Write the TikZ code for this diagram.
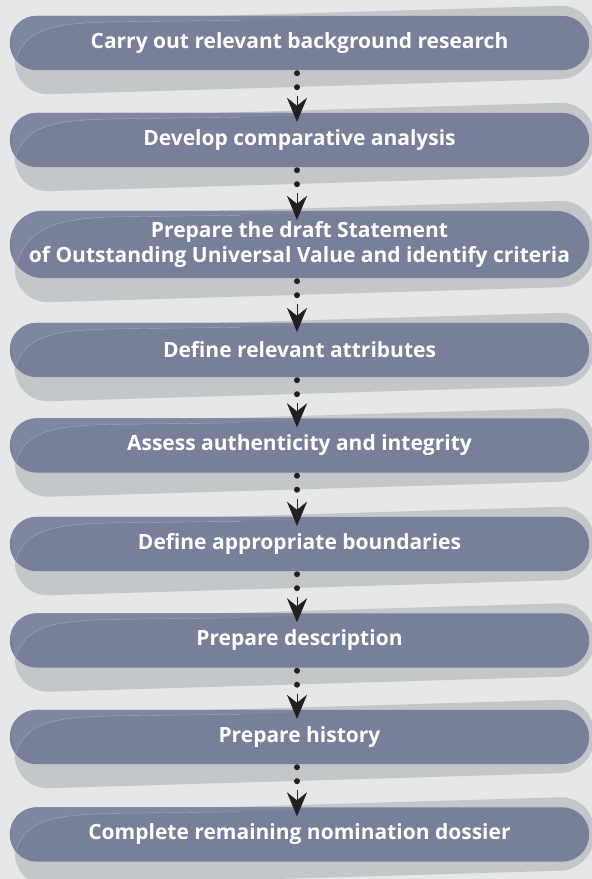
\documentclass[tikz,border=0pt]{standalone}
\usepackage{fontspec}
\setmainfont{Open Sans}
\usetikzlibrary{calc, arrows.meta, backgrounds, positioning}

\definecolor{pagecol}{HTML}{E6E8E7}
\definecolor{shadowcol}{HTML}{C4C7CA}
\definecolor{pillcol}{HTML}{777F99}
\definecolor{hlcol}{HTML}{7F87A0}
\definecolor{hlline}{HTML}{A3AABD}
\definecolor{dotcol}{HTML}{231F20}

\begin{document}
\begin{tikzpicture}[
                x=1pt, y=-1pt,
                stage/.style={rectangle, minimum width=579pt, minimum height=54pt, inner sep=0pt,
                              text=white, align=center, font=\bfseries\fontsize{21}{25}\selectfont},
                tall/.style={minimum height=67pt},
                dotline/.style={draw=dotcol, line width=6pt, line cap=round, dash pattern=on 0pt off 14pt},
                flowarrow/.style={draw=dotcol, line width=0.4pt, -{Stealth[length=24pt, width=20pt, inset=8pt]}}
            ]

            \useasboundingbox (0,0) rectangle (592,879);

            % Stages
            \node[stage] (S-1) at (299.5,43) {Carry out relevant background research};
            \node[stage] (S-2) at (299.5,140) {Develop comparative analysis};
            \node[stage, tall] (S-3) at (299.5,244.5) {Prepare the draft Statement\\of Outstanding Universal Value and identify criteria};
            \node[stage] (S-4) at (299.5,350) {Define relevant attributes};
            \node[stage] (S-5) at (299.5,445.5) {Assess authenticity and integrity};
            \node[stage] (S-6) at (299.5,544) {Define appropriate boundaries};
            \node[stage] (S-7) at (299.5,640.5) {Prepare description};
            \node[stage] (S-8) at (299.5,737) {Prepare history};
            \node[stage] (S-9) at (299.5,834.5) {Complete remaining nomination dossier};

            % Pills and their shadows
            \begin{scope}[on background layer]
            \fill[pagecol] (0,0) rectangle (592,879);
            \foreach \s/\r in {1/27,2/27,3/33.5,4/27,5/27,6/27,7/27,8/27,9/27}
            {
                \fill[shadowcol, rounded corners=34pt]
                    ($(S-\s.north west)+(5,6)$) -- ($(S-\s.north east)+(5,-11)$) --
                    ($(S-\s.south east)+(5,8)$) -- ($(S-\s.south west)+(5,25)$) -- cycle;
                \fill[pillcol, rounded corners=\r pt] (S-\s.north west) rectangle (S-\s.south east);
                \begin{scope}
                    \clip[rounded corners=\r pt] (S-\s.north west) rectangle (S-\s.south east);
                    \fill[hlcol] ($(S-\s.south west)+(5,-7)$) .. controls ($(S-\s.west)+(14,-14)$) and ($(S-\s.north west)+(40,7)$) ..
                        ($(S-\s.north west)+(110,6)$) -- ($(S-\s.north)+(0,3)$) -- ($(S-\s.north)+(0,-2)$) --
                        ($(S-\s.north west)+(-2,-2)$) -- cycle;
                    \draw[hlline, line width=0.4pt] ($(S-\s.south west)+(5,-7)$) .. controls ($(S-\s.west)+(14,-14)$) and ($(S-\s.north west)+(40,7)$) ..
                        ($(S-\s.north west)+(110,6)$) -- ($(S-\s.north)+(-60,4.5)$);
                \end{scope}
            }
            \end{scope}

            % Connections between stages
            \foreach \a/\b in {1/2,2/3,3/4,4/5,5/6,6/7,7/8,8/9}
            {
                \draw[dotline] ($(S-\a.south)+(-2.5,3)$) -- ($(S-\a.south)+(-2.5,18)$);
                \draw[flowarrow] ($(S-\a.south)+(-2.5,26)$) -- ($(S-\b.north)+(-2.5,9)$);
            }

        \end{tikzpicture}
\end{document}
